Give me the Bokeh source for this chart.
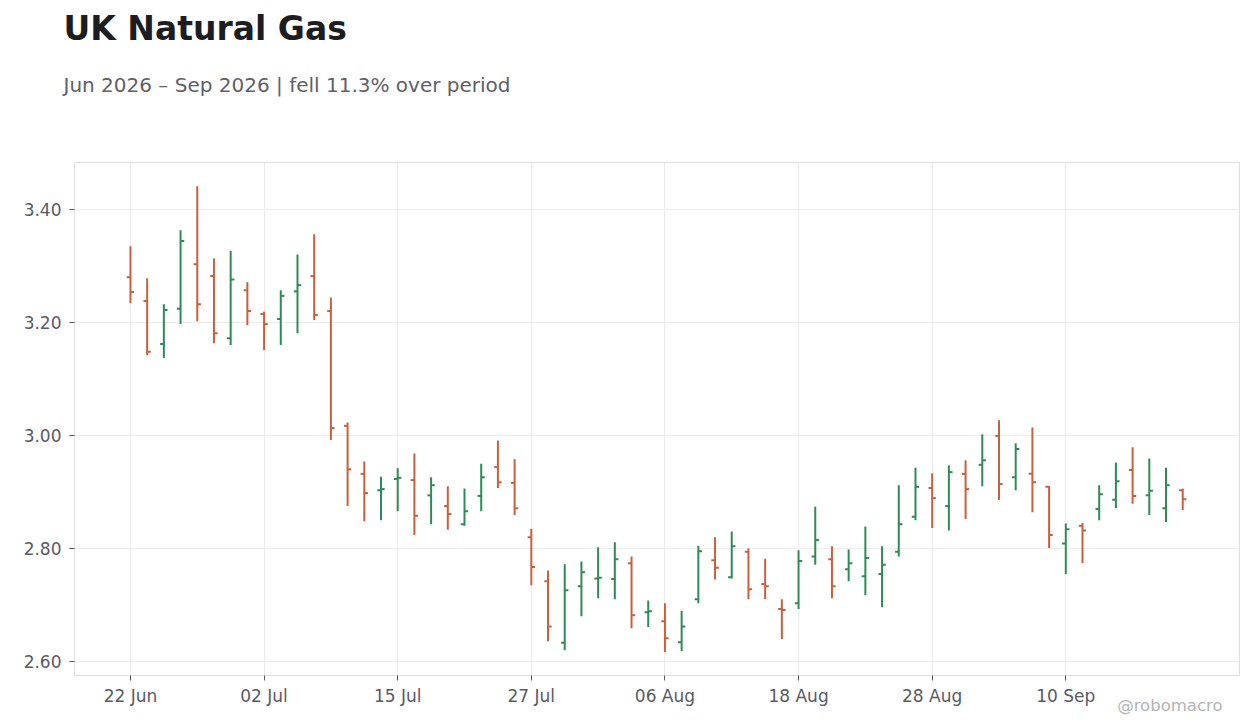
from bokeh.plotting import figure
from bokeh.embed import file_html
from bokeh.resources import INLINE
from bokeh.models import ColumnDataSource, FixedTicker, PrintfTickFormatter, Title, Range1d

# daily OHLC, one bar per trading day (index on x)
opens = [3.280, 3.238, 3.162, 3.224, 3.303, 3.282, 3.172, 3.257, 3.215, 3.206,
         3.255, 3.282, 3.220, 3.017, 2.932, 2.903, 2.923, 2.921, 2.894, 2.875,
         2.843, 2.893, 2.944, 2.916, 2.820, 2.742, 2.633, 2.733, 2.747, 2.746,
         2.774, 2.687, 2.671, 2.634, 2.710, 2.779, 2.749, 2.794, 2.737, 2.693,
         2.703, 2.786, 2.781, 2.763, 2.751, 2.755, 2.794, 2.856, 2.907, 2.875,
         2.932, 2.948, 2.999, 2.926, 2.932, 2.909, 2.809, 2.840, 2.870, 2.886,
         2.939, 2.894, 2.871, 2.903]
highs = [3.335, 3.278, 3.232, 3.363, 3.441, 3.313, 3.327, 3.271, 3.219, 3.257,
         3.320, 3.356, 3.244, 3.023, 2.954, 2.927, 2.942, 2.968, 2.926, 2.910,
         2.906, 2.950, 2.991, 2.958, 2.835, 2.761, 2.772, 2.777, 2.802, 2.811,
         2.786, 2.708, 2.703, 2.690, 2.805, 2.820, 2.830, 2.800, 2.782, 2.710,
         2.797, 2.874, 2.804, 2.798, 2.839, 2.804, 2.912, 2.943, 2.933, 2.947,
         2.956, 3.002, 3.027, 2.986, 3.014, 2.910, 2.844, 2.845, 2.912, 2.952,
         2.979, 2.959, 2.943, 2.906]
lows = [3.234, 3.142, 3.137, 3.197, 3.202, 3.163, 3.160, 3.195, 3.151, 3.160,
        3.181, 3.204, 2.992, 2.875, 2.848, 2.850, 2.866, 2.824, 2.843, 2.833,
        2.840, 2.866, 2.907, 2.859, 2.735, 2.636, 2.620, 2.680, 2.712, 2.710,
        2.659, 2.661, 2.617, 2.618, 2.703, 2.745, 2.747, 2.710, 2.710, 2.640,
        2.693, 2.771, 2.712, 2.742, 2.717, 2.696, 2.786, 2.850, 2.836, 2.832,
        2.852, 2.910, 2.886, 2.903, 2.864, 2.801, 2.755, 2.774, 2.850, 2.871,
        2.879, 2.859, 2.847, 2.868]
closes = [3.254, 3.148, 3.222, 3.344, 3.232, 3.181, 3.276, 3.220, 3.197, 3.247,
          3.266, 3.213, 3.013, 2.940, 2.898, 2.905, 2.925, 2.858, 2.912, 2.861,
          2.866, 2.926, 2.917, 2.871, 2.767, 2.662, 2.726, 2.758, 2.748, 2.781,
          2.682, 2.689, 2.641, 2.662, 2.795, 2.766, 2.804, 2.728, 2.733, 2.691,
          2.778, 2.815, 2.733, 2.774, 2.783, 2.771, 2.843, 2.909, 2.889, 2.935,
          2.905, 2.956, 2.914, 2.976, 2.917, 2.824, 2.834, 2.832, 2.896, 2.919,
          2.893, 2.902, 2.912, 2.887]

tick_positions = [0, 8, 16, 24, 32, 40, 48, 56]
tick_labels = ["22 Jun", "02 Jul", "15 Jul", "27 Jul", "06 Aug", "18 Aug", "28 Aug", "10 Sep"]
y_ticks = [2.6, 2.8, 3.0, 3.2, 3.4]

UP = "#2e8b57"
DOWN = "#c9603c"
FONT = "DejaVu Sans"

idx = list(range(len(opens)))
colors = [UP if c >= o else DOWN for o, c in zip(opens, closes)]
tick = 0.22
src = ColumnDataSource(data=dict(
    x=idx, o=opens, h=highs, l=lows, c=closes, color=colors,
    xl=[i - tick for i in idx], xr=[i + tick for i in idx],
))

change = (closes[-1] / closes[0] - 1) * 100
word = "fell" if change < 0 else "rose"

p = figure(width=1252, height=728, output_backend="svg", toolbar_location=None,
           x_range=Range1d(-3.35, 66.4), y_range=Range1d(2.5752, 3.483),
           min_border_left=74, min_border_right=13, min_border_top=162, min_border_bottom=53)
p.title.visible = False
p.background_fill_color = "white"
p.border_fill_color = "white"
p.outline_line_color = "#dedede"
p.outline_line_width = 1

p.segment(x0="x", y0="l", x1="x", y1="h", line_color="color", line_width=2, source=src)
p.segment(x0="xl", y0="o", x1="x", y1="o", line_color="color", line_width=2, source=src)
p.segment(x0="x", y0="c", x1="xr", y1="c", line_color="color", line_width=2, source=src)

p.xaxis.ticker = FixedTicker(ticks=tick_positions)
p.xaxis.major_label_overrides = {t: lab for t, lab in zip(tick_positions, tick_labels)}
p.yaxis.ticker = FixedTicker(ticks=y_ticks)
p.yaxis.formatter = PrintfTickFormatter(format="%.2f")
p.xgrid.ticker = FixedTicker(ticks=tick_positions)
p.ygrid.ticker = FixedTicker(ticks=y_ticks)

for ax in (p.xaxis, p.yaxis):
    ax.axis_line_color = None
    ax.minor_tick_line_color = None
    ax.major_tick_in = 0
    ax.major_tick_out = 5
    ax.major_tick_line_color = "#55555f"
    ax.major_label_text_font = FONT
    ax.major_label_text_font_size = "17px"
    ax.major_label_text_color = "#5a5a66"
p.xaxis.major_label_standoff = 5
p.yaxis.major_label_standoff = 8

p.grid.grid_line_color = "#ececec"
p.grid.grid_line_width = 1


def spacer(gap):
    return Title(text=" ", text_font_size="1px", standoff=gap)


# header: first added sits nearest the frame
p.add_layout(spacer(63), "above")
p.add_layout(Title(text=f"Jun 2026 \u2013 Sep 2026 | {word} {abs(change):.1f}% over period",
                   text_font=FONT, text_font_size="20px", text_font_style="normal",
                   text_color="#5f6068", align="left", offset=-11, standoff=0), "above")
p.add_layout(spacer(20), "above")
p.add_layout(Title(text="UK Natural Gas", text_font=FONT, text_font_size="33px",
                   text_font_style="bold", text_color="#1c1c21",
                   align="left", offset=-11, standoff=0), "above")
p.add_layout(Title(text="@robomacro", text_font=FONT, text_font_size="16.5px",
                   text_font_style="normal", text_color="#b4b4b4",
                   align="right", vertical_align="top", offset=17, standoff=-25), "below")

open("out.html", "w").write(file_html(p, INLINE))
